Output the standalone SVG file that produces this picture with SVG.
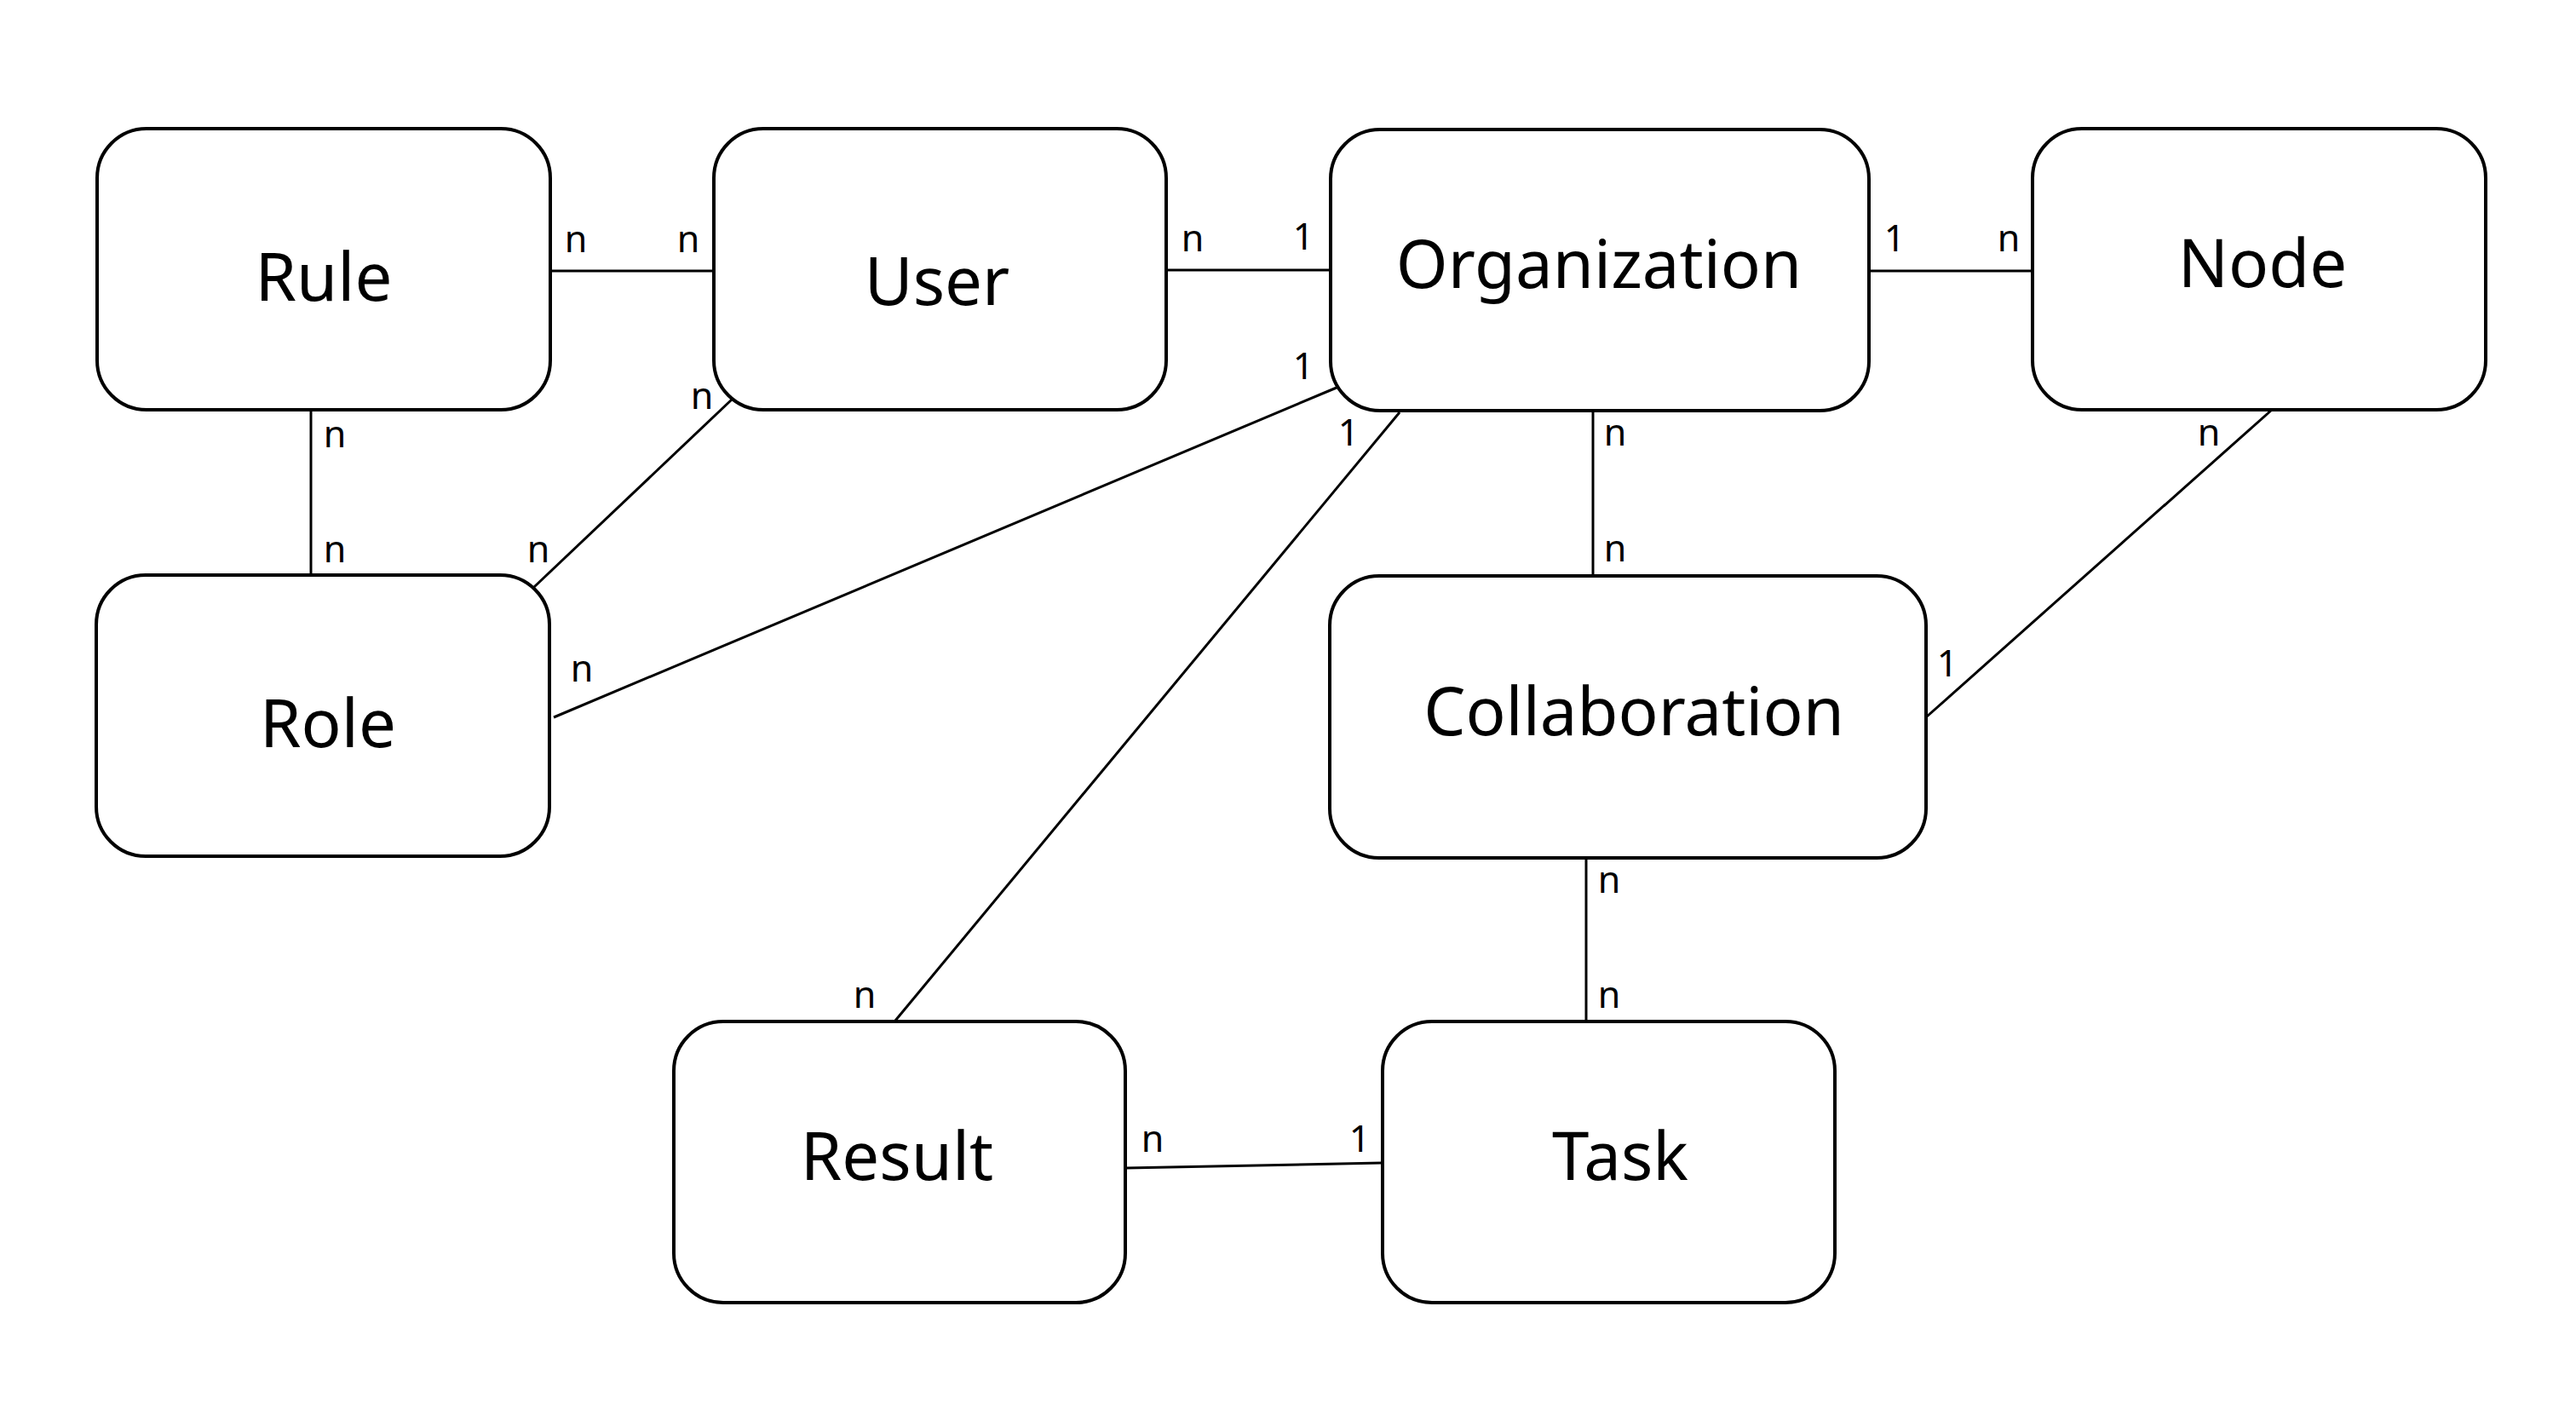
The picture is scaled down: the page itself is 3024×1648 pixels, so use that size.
<svg xmlns="http://www.w3.org/2000/svg" width="3024" height="1648" viewBox="0 0 3024 1648">
<style>
.box{fill:#fff;stroke:#000;stroke-width:4}
.t{font-family:"Noto Sans","Open Sans",sans-serif;font-size:78px;text-anchor:middle;fill:#000}
.l{font-family:"Noto Sans","Open Sans",sans-serif;font-size:43px;text-anchor:middle;fill:#000}
.c line{stroke:#000;stroke-width:3}
</style>
<rect width="3024" height="1648" fill="#fff"/>
<g class="c" id="connectors">
<line x1="646" y1="318" x2="837" y2="318"/>
<line x1="365" y1="482" x2="365" y2="674"/>
<line x1="859" y1="469" x2="627" y2="689"/>
<line x1="1369" y1="317" x2="1562" y2="317"/>
<line x1="2194" y1="318" x2="2386" y2="318"/>
<line x1="1569" y1="455" x2="650" y2="842"/>
<line x1="1643" y1="484" x2="1051" y2="1198"/>
<line x1="1870" y1="482" x2="1870" y2="675"/>
<line x1="2667" y1="481" x2="2262" y2="841"/>
<line x1="1862" y1="1008" x2="1862" y2="1198"/>
<line x1="1322" y1="1371" x2="1622" y2="1365"/>
<text class="l" x="676" y="296">n</text>
<text class="l" x="808" y="296">n</text>
<text class="l" x="393" y="525">n</text>
<text class="l" x="393" y="660">n</text>
<text class="l" x="824" y="480">n</text>
<text class="l" x="632" y="660">n</text>
<text class="l" x="1400" y="295">n</text>
<text class="l" x="1530" y="293">1</text>
<text class="l" x="2224" y="295">1</text>
<text class="l" x="2358" y="295">n</text>
<text class="l" x="1530" y="445">1</text>
<text class="l" x="683" y="800">n</text>
<text class="l" x="1583" y="523">1</text>
<text class="l" x="1015" y="1183">n</text>
<text class="l" x="1896" y="523">n</text>
<text class="l" x="1896" y="659">n</text>
<text class="l" x="2593" y="523">n</text>
<text class="l" x="2286" y="794">1</text>
<text class="l" x="1889" y="1048">n</text>
<text class="l" x="1889" y="1183">n</text>
<text class="l" x="1353" y="1352">n</text>
<text class="l" x="1596" y="1352">1</text>
</g>
<g id="rule"><rect class="box" x="114" y="151" width="532" height="330" rx="58"/><text class="t" x="380" y="353">Rule</text></g>
<g id="user"><rect class="box" x="838" y="151" width="531" height="330" rx="58"/><text class="t" x="1100" y="358">User</text></g>
<g id="organization"><rect class="box" x="1562" y="152" width="632" height="330" rx="58"/><text class="t" x="1877" y="338">Organization</text></g>
<g id="node"><rect class="box" x="2386" y="151" width="532" height="330" rx="58"/><text class="t" x="2656" y="337">Node</text></g>
<g id="role"><rect class="box" x="113" y="675" width="532" height="330" rx="58"/><text class="t" x="385" y="877">Role</text></g>
<g id="collaboration"><rect class="box" x="1561" y="676" width="700" height="331" rx="58"/><text class="t" x="1918" y="863">Collaboration</text></g>
<g id="result"><rect class="box" x="791" y="1199" width="530" height="330" rx="58"/><text class="t" x="1053" y="1385">Result</text></g>
<g id="task"><rect class="box" x="1623" y="1199" width="531" height="330" rx="58"/><text class="t" x="1902" y="1385">Task</text></g>
</svg>
